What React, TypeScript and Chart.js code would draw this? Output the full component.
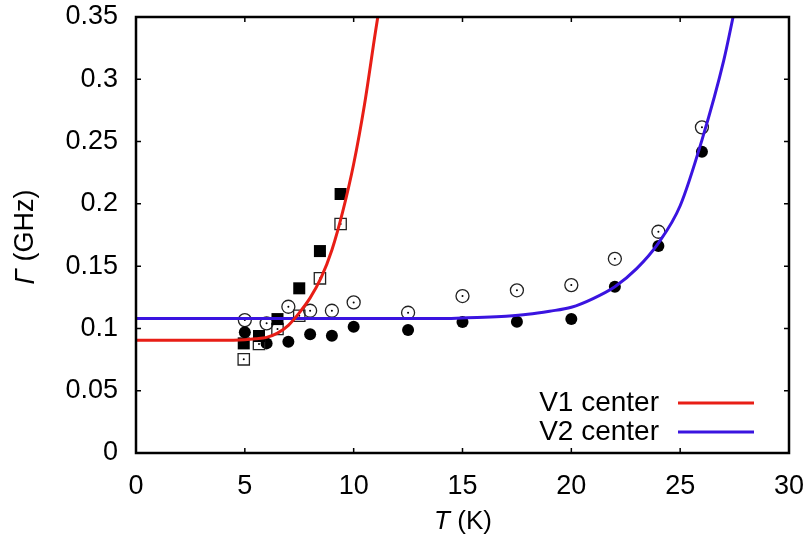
import { useEffect, useRef } from 'react';
import { Chart, registerables } from 'chart.js';
Chart.register(...registerables);

const FONT = '"Liberation Sans", Arial, Helvetica, sans-serif';

// Fit curves
const v1FitT = [0, 4, 5, 5.5, 6, 6.5, 7, 7.5, 8, 8.5, 9, 9.5, 10, 10.5, 11, 11.2];
const v1FitG = [0.0905, 0.0905, 0.091, 0.0917, 0.0928, 0.0962, 0.1025, 0.1125, 0.1245, 0.1405, 0.163, 0.194, 0.232, 0.28, 0.338, 0.36];
const v2FitT = [0, 14, 15, 16, 17, 18, 19, 20, 21, 22, 23, 24, 25, 26, 27, 27.5, 28];
const v2FitG = [0.108, 0.108, 0.1084, 0.1089, 0.1098, 0.1113, 0.1138, 0.117, 0.124, 0.1335, 0.148, 0.1685, 0.1985, 0.2512, 0.315, 0.356, 0.4];

// V1 measured points (squares)
const v1T = [4.95, 5.65, 6.5, 7.5, 8.45, 9.4];
const v1Filled = [0.088, 0.0939, 0.1075, 0.1322, 0.1621, 0.2079];
const v1Open = [0.0752, 0.0875, 0.0995, 0.1102, 0.1402, 0.1838];

// V2 measured points (circles)
const v2T = [5, 6, 7, 8, 9, 10, 12.5, 15, 17.5, 20, 22, 24, 26];
const v2Filled = [0.0969, 0.088, 0.0893, 0.0953, 0.0941, 0.1014, 0.0987, 0.1051, 0.1054, 0.1075, 0.1335, 0.1661, 0.2418];
const v2Open = [0.1067, 0.1041, 0.1174, 0.1142, 0.1142, 0.1209, 0.1126, 0.126, 0.1306, 0.1348, 0.1559, 0.1776, 0.2614];

const xTickLabels = ['0', '5', '10', '15', '20', '25', '30'];
const yTickLabels = ['0', '0.05', '0.1', '0.15', '0.2', '0.25', '0.3', '0.35'];

const legendLabels = ['V1 center', 'V2 center'];
const RED = 'rgb(232,30,22)';
const BLUE = 'rgb(58,20,224)';

const zip = (xs: number[], ys: number[]) => xs.map((x, i) => ({ x, y: ys[i] }));

const framePlugin = {
  id: 'frame',
  afterDraw(chart: any) {
    const ctx = chart.ctx as CanvasRenderingContext2D;
    const { left, right, top, bottom } = chart.chartArea;
    const xs = chart.scales.x;
    const ys = chart.scales.y;
    ctx.save();
    ctx.strokeStyle = '#000';
    ctx.lineWidth = 1.5;
    ctx.beginPath();
    xs.ticks.forEach((t: any) => {
      const px = xs.getPixelForValue(t.value);
      if (px <= left + 1 || px >= right - 1) return;
      ctx.moveTo(px, bottom);
      ctx.lineTo(px, bottom - 5);
      ctx.moveTo(px, top);
      ctx.lineTo(px, top + 5);
    });
    ys.ticks.forEach((t: any) => {
      const py = ys.getPixelForValue(t.value);
      if (py <= top + 1 || py >= bottom - 1) return;
      ctx.moveTo(left, py);
      ctx.lineTo(left + 5, py);
      ctx.moveTo(right, py);
      ctx.lineTo(right - 5, py);
    });
    ctx.stroke();
    ctx.lineWidth = 2.5;
    ctx.strokeRect(left, top, right - left, bottom - top);

    // Axis titles
    ctx.fillStyle = '#000';
    ctx.textBaseline = 'middle';
    ctx.textAlign = 'left';
    const drawMixed = (parts: [string, boolean][], cx: number, cy: number, size: number) => {
      let total = 0;
      const widths = parts.map(([s, it]) => {
        ctx.font = `${it ? 'italic ' : ''}${size}px ${FONT}`;
        const w = ctx.measureText(s).width;
        total += w;
        return w;
      });
      let x = cx - total / 2;
      parts.forEach(([s, it], i) => {
        ctx.font = `${it ? 'italic ' : ''}${size}px ${FONT}`;
        ctx.fillText(s, x, cy);
        x += widths[i];
      });
    };
    drawMixed([['T', true], [' (K)', false]], 463, 522, 26);
    ctx.save();
    ctx.translate(26, 237);
    ctx.rotate(-Math.PI / 2);
    drawMixed([['Γ', true], [' (GHz)', false]], 0, 0, 27);
    ctx.restore();

    // Legend
    const colors = [RED, BLUE];
    const ly = [403, 432];
    ctx.font = `28px ${FONT}`;
    ctx.textAlign = 'right';
    legendLabels.forEach((lab, i) => {
      ctx.fillStyle = '#000';
      ctx.fillText(lab, 659, ly[i]);
      ctx.strokeStyle = colors[i];
      ctx.lineWidth = 3;
      ctx.beginPath();
      ctx.moveTo(678, ly[i]);
      ctx.lineTo(754, ly[i]);
      ctx.stroke();
    });
    ctx.restore();
  },
};

export default function App() {
  const ref = useRef<HTMLCanvasElement>(null);
  useEffect(() => {
    document.body.style.margin = '0';
    const canvas = ref.current!;
    const chart = new Chart(canvas, {
      type: 'scatter',
      data: {
        datasets: [
          {
            type: 'line',
            label: legendLabels[0],
            data: zip(v1FitT, v1FitG),
            borderColor: RED,
            borderWidth: 3,
            pointRadius: 0,
            cubicInterpolationMode: 'monotone',
            fill: false,
          } as any,
          {
            type: 'line',
            label: legendLabels[1],
            data: zip(v2FitT, v2FitG),
            borderColor: BLUE,
            borderWidth: 3,
            pointRadius: 0,
            cubicInterpolationMode: 'monotone',
            fill: false,
          } as any,
          {
            label: 'V1 filled',
            data: zip(v1T, v1Filled),
            pointStyle: 'rect',
            pointRadius: 8.5,
            backgroundColor: '#000',
            borderColor: '#000',
            borderWidth: 0,
          },
          {
            label: 'V1 open dot',
            data: zip(v1T, v1Open),
            pointStyle: 'circle',
            pointRadius: 1,
            backgroundColor: '#000',
            borderWidth: 0,
          },
          {
            label: 'V1 open',
            data: zip(v1T, v1Open),
            pointStyle: 'rect',
            pointRadius: 8,
            backgroundColor: 'rgba(0,0,0,0)',
            borderColor: '#222',
            borderWidth: 1.3,
          },
          {
            label: 'V2 filled',
            data: zip(v2T, v2Filled),
            pointStyle: 'circle',
            pointRadius: 6,
            backgroundColor: '#000',
            borderColor: '#000',
            borderWidth: 0,
          },
          {
            label: 'V2 open dot',
            data: zip(v2T, v2Open),
            pointStyle: 'circle',
            pointRadius: 1,
            backgroundColor: '#000',
            borderWidth: 0,
          },
          {
            label: 'V2 open',
            data: zip(v2T, v2Open),
            pointStyle: 'circle',
            pointRadius: 6.5,
            backgroundColor: 'rgba(0,0,0,0)',
            borderColor: '#222',
            borderWidth: 1.3,
          },
        ],
      },
      options: {
        responsive: false,
        animation: false,
        layout: { padding: { left: 0, right: 22, top: 17, bottom: 0 } },
        plugins: { legend: { display: false }, tooltip: { enabled: false } },
        scales: {
          x: {
            type: 'linear',
            min: 0,
            max: 30,
            grid: { display: false },
            border: { display: false },
            ticks: {
              stepSize: 5,
              autoSkip: false,
              maxRotation: 0,
              padding: 9,
              color: '#000',
              font: { family: FONT, size: 27 },
              callback: (_v: any, i: number) => xTickLabels[i],
            },
            afterFit: (s: any) => {
              s.height = 89;
              s.paddingLeft = 0;
              s.paddingRight = 0;
            },
          },
          y: {
            type: 'linear',
            min: 0,
            max: 0.35,
            grid: { display: false },
            border: { display: false },
            ticks: {
              stepSize: 0.05,
              autoSkip: false,
              padding: 10,
              color: '#000',
              font: { family: FONT, size: 27 },
              callback: (_v: any, i: number) => yTickLabels[i],
            },
            afterFit: (s: any) => {
              s.width = 136;
              s.paddingTop = 0;
              s.paddingBottom = 0;
            },
          },
        },
      },
      plugins: [framePlugin],
    });
    return () => chart.destroy();
  }, []);
  return (
    <div style={{ width: 811, height: 542 }}>
      <canvas ref={ref} width={811} height={542} style={{ width: 811, height: 542 }} />
    </div>
  );
}
